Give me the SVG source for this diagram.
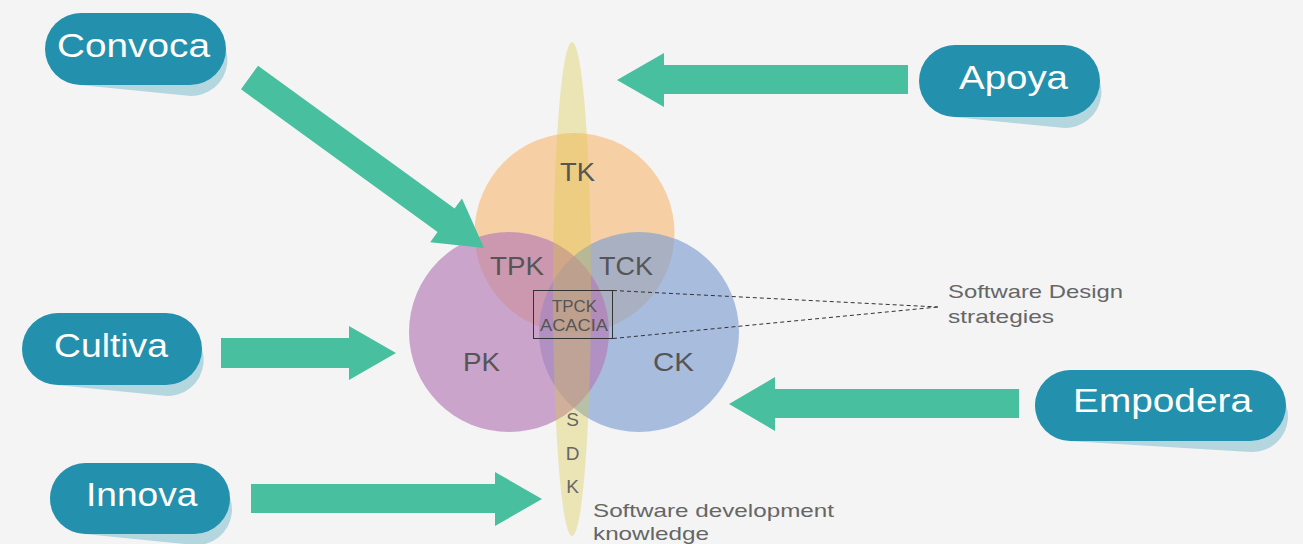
<svg xmlns="http://www.w3.org/2000/svg" width="1303" height="544" viewBox="0 0 1303 544">
<style>
.pill{fill:#2391AD}
.shadow{fill:#B3D6DF}
.ptxt{font-family:"Liberation Sans",Arial,sans-serif;font-size:33px;fill:#FFFFFF}
.arrow{fill:#48C0A0}
.lbl{font-family:"Liberation Sans",Arial,sans-serif;font-size:25px;fill:#555555}
.small{font-family:"Liberation Sans",Arial,sans-serif;font-size:17px;fill:#555555}
.note{font-family:"Liberation Sans",Arial,sans-serif;font-size:19px;fill:#666666}
.dash{stroke:#333333;stroke-width:1;stroke-dasharray:4 3;fill:none}
</style>
<rect x="0" y="0" width="1303" height="544" fill="#F4F4F4"/>

<g id="venn">
  <circle id="tk-circle" cx="574.5" cy="233" r="100" fill="#F7BD79" opacity="0.65"/>
  <circle id="ck-circle" cx="639" cy="332" r="100" fill="#7F9ED2" opacity="0.65"/>
  <circle id="pk-circle" cx="509" cy="332" r="100" fill="#B679B5" opacity="0.65"/>
  <ellipse id="sdk-ellipse" cx="572" cy="289" rx="19" ry="247" fill="#D8C83E" opacity="0.34"/>
</g>

<g id="labels">
  <text class="lbl" x="560" y="181" textLength="35" lengthAdjust="spacingAndGlyphs">TK</text>
  <text class="lbl" x="490" y="275" textLength="54" lengthAdjust="spacingAndGlyphs">TPK</text>
  <text class="lbl" x="599" y="275" textLength="54" lengthAdjust="spacingAndGlyphs">TCK</text>
  <text class="lbl" x="463" y="371" textLength="37" lengthAdjust="spacingAndGlyphs">PK</text>
  <text class="lbl" x="653" y="371" textLength="41" lengthAdjust="spacingAndGlyphs">CK</text>
  <text class="note" x="572.5" y="426" text-anchor="middle">S</text>
  <text class="note" x="572.5" y="460" text-anchor="middle">D</text>
  <text class="note" x="572.5" y="493" text-anchor="middle">K</text>
  <text class="note" x="593" y="517" textLength="241" lengthAdjust="spacingAndGlyphs">Software development</text>
  <text class="note" x="593" y="540" textLength="116" lengthAdjust="spacingAndGlyphs">knowledge</text>
  <text class="note" x="948" y="298" textLength="175" lengthAdjust="spacingAndGlyphs">Software Design</text>
  <text class="note" x="948" y="323" textLength="106" lengthAdjust="spacingAndGlyphs">strategies</text>
</g>

<g id="tpck">
  <rect x="533.5" y="290.5" width="79" height="48" fill="none" stroke="#333333" stroke-width="1"/>
  <text class="small" x="552" y="312" textLength="45" lengthAdjust="spacingAndGlyphs">TPCK</text>
  <text class="small" x="540" y="331" textLength="68" lengthAdjust="spacingAndGlyphs">ACACIA</text>
</g>

<g id="connectors">
  <line class="dash" x1="613" y1="290.5" x2="938" y2="307"/>
  <line class="dash" x1="613" y1="338.5" x2="938" y2="307"/>
  <polygon class="arrow" transform="translate(249.5,77.5) rotate(36)" points="0,-14.5 243,-14.5 243,-27 290,0 243,27 243,14.5 0,14.5"/>
  <polygon class="arrow" points="908,65 664,65 664,53 617,80 664,107 664,94 908,94"/>
  <polygon class="arrow" points="221,338 349,338 349,326 396,353 349,380 349,368 221,368"/>
  <polygon class="arrow" points="251,484 495,484 495,472 542,499 495,526 495,513 251,513"/>
  <polygon class="arrow" points="1019,389 775,389 775,377 729,404 775,431 775,418 1019,418"/>
</g>

<g id="convoca">
  <path class="shadow" d="M84.55,13.18 L195.55,24.18 A36,36 0 0 1 188.45,95.82 L77.45,84.82 A36,36 0 0 1 84.55,13.18 Z"/>
  <rect class="pill" x="45" y="13" width="181" height="72" rx="36" ry="36"/>
  <text class="ptxt" x="57" y="57" textLength="153" lengthAdjust="spacingAndGlyphs">Convoca</text>
</g>

<g id="apoya">
  <path class="shadow" d="M958.55,45.18 L1069.55,56.18 A36,36 0 0 1 1062.45,127.82 L951.45,116.82 A36,36 0 0 1 958.55,45.18 Z"/>
  <rect class="pill" x="919" y="45" width="181" height="72" rx="36" ry="36"/>
  <text class="ptxt" x="959" y="89" textLength="109" lengthAdjust="spacingAndGlyphs">Apoya</text>
</g>

<g id="cultiva">
  <path class="shadow" d="M61.58,313.18 L171.58,324.18 A36,36 0 0 1 164.42,395.82 L54.42,384.82 A36,36 0 0 1 61.58,313.18 Z"/>
  <rect class="pill" x="22" y="313" width="180" height="72" rx="36" ry="36"/>
  <text class="ptxt" x="54" y="357" textLength="114" lengthAdjust="spacingAndGlyphs">Cultiva</text>
</g>

<g id="innova">
  <path class="shadow" d="M89,463.17 L200,474.17 A35.5,35.5 0 0 1 193,544.83 L82,533.83 A35.5,35.5 0 0 1 89,463.17 Z"/>
  <rect class="pill" x="50" y="463" width="180" height="71" rx="35.5" ry="35.5"/>
  <text class="ptxt" x="86" y="506" textLength="111.5" lengthAdjust="spacingAndGlyphs">Innova</text>
</g>

<g id="empodera">
  <path class="shadow" d="M1072.64,370.06 L1254.64,381.06 A35.5,35.5 0 0 1 1250.36,451.94 L1068.36,440.94 A35.5,35.5 0 0 1 1072.64,370.06 Z"/>
  <rect class="pill" x="1035" y="370" width="251" height="71" rx="35.5" ry="35.5"/>
  <text class="ptxt" x="1073" y="412" textLength="179" lengthAdjust="spacingAndGlyphs">Empodera</text>
</g>
</svg>
